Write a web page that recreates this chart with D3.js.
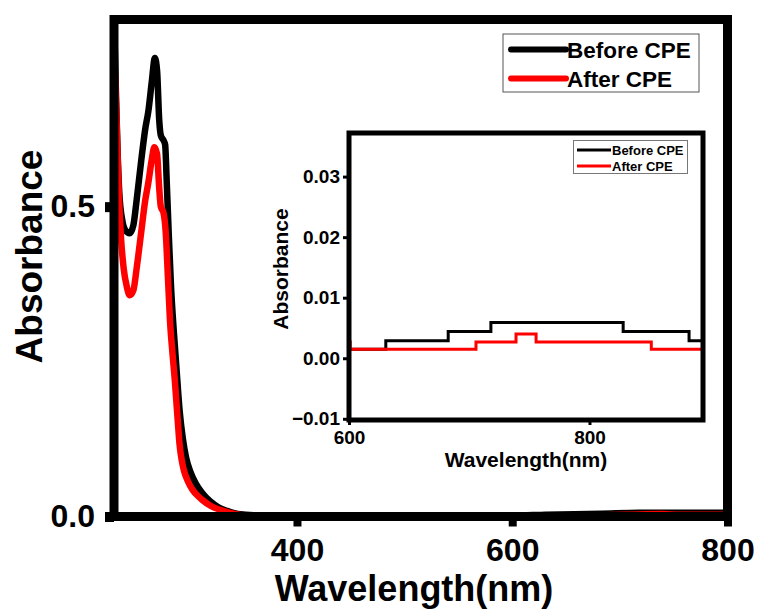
<!DOCTYPE html>
<html>
<head>
<meta charset="utf-8">
<script src="https://cdn.jsdelivr.net/npm/d3@7"></script>
<style>
  html, body { margin: 0; padding: 0; background: #fff; }
  svg { display: block; }
  text { font-family: "Liberation Sans", Arial, sans-serif; font-weight: bold; fill: #000; }
</style>
</head>
<body>
<svg id="chart" width="763" height="609"></svg>
<script>
// ---------------- DATA ----------------
const seriesNames = ["Before CPE", "After CPE"];
const seriesColors = ["#000000", "#ff0000"];

// Main spectrum: Before CPE
const beforeWavelength = [230, 231, 232, 233.5, 235, 237.5, 240.5, 244.5, 248, 251, 255, 259, 262, 265, 268, 270, 272, 273.5, 276, 277.5, 279, 281, 283, 285.5, 288, 291, 294, 297, 301, 306, 312, 319, 327, 335, 345, 360, 400, 450, 500, 550, 600, 631, 683, 718, 800];
const beforeAbsorbance = [0.80, 0.74, 0.67, 0.58, 0.52, 0.48, 0.462, 0.457, 0.47, 0.51, 0.57, 0.625, 0.655, 0.70, 0.74, 0.72, 0.64, 0.615, 0.607, 0.60, 0.54, 0.45, 0.37, 0.30, 0.24, 0.17, 0.125, 0.095, 0.072, 0.053, 0.038, 0.025, 0.015, 0.009, 0.004, 0.002, 0.0016, 0.0015, 0.0016, 0.0015, 0.0015, 0.0029, 0.0044, 0.0059, 0.0059];

// Main spectrum: After CPE
const afterWavelength = [231, 232, 233, 234.5, 236.5, 239, 242, 244.5, 248, 251, 255, 259, 262, 265, 267.5, 270, 272, 273.5, 276, 278, 280, 282, 284.5, 286.5, 289, 291, 293, 295, 298.6, 303, 308, 312.5, 320, 330, 340, 350, 370, 390, 420, 450, 480, 510, 540, 570, 600, 640, 706, 739, 756, 800];
const afterAbsorbance = [0.7125, 0.66, 0.60, 0.52, 0.45, 0.40, 0.37, 0.357, 0.365, 0.40, 0.455, 0.51, 0.54, 0.575, 0.596, 0.585, 0.53, 0.50, 0.49, 0.46, 0.39, 0.317, 0.26, 0.22, 0.16, 0.115, 0.09, 0.074, 0.057, 0.043, 0.033, 0.026, 0.017, 0.010, 0.005, 0.002, 0.0015, 0.002, 0.001, 0.0018, 0.0012, 0.0017, 0.0013, 0.0016, 0.0015, 0.0013, 0.0027, 0.004, 0.0027, 0.0027];

// Inset (600-895 nm, stepped readings)
const insetBeforeWavelength = [600, 630.6, 682.5, 718, 828, 882.8, 895];
const insetBeforeAbsorbance = [0.0015, 0.0029, 0.0044, 0.0059, 0.0044, 0.0029, 0.0029];
const insetAfterWavelength = [600, 601, 705.6, 738.9, 755.6, 851.4, 895];
const insetAfterAbsorbance = [0.0027, 0.0015, 0.0027, 0.0040, 0.0027, 0.0015, 0.0015];

// Tick labels
const mainXTicks = [400, 600, 800];
const mainYTicks = [0.0, 0.5];
const insetXTicks = [600, 800];
const insetYTicks = [-0.01, 0.00, 0.01, 0.02, 0.03];

const xTitle = "Wavelength(nm)";
const yTitle = "Absorbance";

// ---------------- DRAW ----------------
const svg = d3.select("#chart");

// Main plot box
const M = { left: 114, right: 727.5, top: 19.5, bottom: 516.5 };
const x = d3.scaleLinear().domain([230, 800]).range([M.left, M.right]);
const y = d3.scaleLinear().domain([0, 0.802]).range([M.bottom, M.top]);

svg.append("clipPath").attr("id", "mainClip")
  .append("rect").attr("x", M.left).attr("y", M.top)
  .attr("width", M.right - M.left).attr("height", M.bottom - M.top);

const mainSeries = [
  { name: seriesNames[0], color: seriesColors[0], wl: beforeWavelength, ab: beforeAbsorbance },
  { name: seriesNames[1], color: seriesColors[1], wl: afterWavelength, ab: afterAbsorbance }
];

const mainLine = d3.line()
  .x(d => x(d[0])).y(d => y(d[1]))
  .curve(d3.curveMonotoneX);

const gLines = svg.append("g").attr("clip-path", "url(#mainClip)");
mainSeries.forEach(s => {
  gLines.append("path")
    .datum(d3.zip(s.wl, s.ab))
    .attr("fill", "none")
    .attr("stroke", s.color)
    .attr("stroke-width", 6.5)
    .attr("stroke-linejoin", "round")
    .attr("stroke-linecap", "round")
    .attr("d", mainLine);
});

// axes ticks
const xAxis = d3.axisBottom(x).tickValues(mainXTicks).tickSize(10).tickSizeOuter(0).tickPadding(14)
  .tickFormat(d3.format("d"));
const gx = svg.append("g").attr("transform", `translate(0,${M.bottom})`).call(xAxis);
gx.select(".domain").remove();
gx.selectAll(".tick line").attr("stroke", "#000").attr("stroke-width", 8);
gx.selectAll(".tick text").attr("font-size", 32).attr("dy", "0.71em").attr("y", 22);

const yAxis = d3.axisLeft(y).tickValues(mainYTicks).tickSize(9).tickSizeOuter(0).tickPadding(8)
  .tickFormat(d3.format(".1f"));
const gy = svg.append("g").attr("transform", `translate(${M.left},0)`).call(yAxis);
gy.select(".domain").remove();
gy.selectAll(".tick line").attr("stroke", "#000").attr("stroke-width", 10);
gy.selectAll(".tick text").attr("font-size", 32).attr("x", -19);

// frame
svg.append("rect")
  .attr("x", M.left).attr("y", M.top)
  .attr("width", M.right - M.left).attr("height", M.bottom - M.top)
  .attr("fill", "none").attr("stroke", "#000").attr("stroke-width", 9);

// axis titles
svg.append("text")
  .attr("x", 414).attr("y", 601)
  .attr("text-anchor", "middle").attr("font-size", 36)
  .text(xTitle);
svg.append("text")
  .attr("transform", `translate(42,${(150 + 363) / 2}) rotate(-90)`)
  .attr("text-anchor", "middle").attr("font-size", 37)
  .text(yTitle);

// main legend
const lg = svg.append("g");
lg.append("rect").attr("x", 503).attr("y", 34).attr("width", 196).attr("height", 58)
  .attr("fill", "#fff").attr("stroke", "#555").attr("stroke-width", 1);
mainSeries.forEach((s, i) => {
  const yy = 49.5 + i * 29;
  lg.append("line").attr("x1", 511).attr("x2", 566).attr("y1", yy).attr("y2", yy)
    .attr("stroke", s.color).attr("stroke-width", 6).attr("stroke-linecap", "round");
  lg.append("text").attr("x", 567).attr("y", yy).attr("dy", "0.36em")
    .attr("font-size", 22.5).text(s.name);
});

// ---------------- INSET ----------------
const I = { left: 349, right: 703, top: 133, bottom: 420 };
const xi = d3.scaleLinear().domain([600, 894.4]).range([I.left, I.right]);
const yi = d3.scaleLinear().domain([-0.0102, 0.0372]).range([I.bottom, I.top]);

svg.append("rect").attr("x", I.left).attr("y", I.top)
  .attr("width", I.right - I.left).attr("height", I.bottom - I.top)
  .attr("fill", "#fff");

svg.append("clipPath").attr("id", "insetClip")
  .append("rect").attr("x", I.left).attr("y", I.top)
  .attr("width", I.right - I.left).attr("height", I.bottom - I.top);

const insetSeries = [
  { name: seriesNames[0], color: seriesColors[0], wl: insetBeforeWavelength, ab: insetBeforeAbsorbance },
  { name: seriesNames[1], color: seriesColors[1], wl: insetAfterWavelength, ab: insetAfterAbsorbance }
];
const insetLine = d3.line().x(d => xi(d[0])).y(d => yi(d[1])).curve(d3.curveStepAfter);
const gi = svg.append("g").attr("clip-path", "url(#insetClip)");
insetSeries.forEach(s => {
  gi.append("path").datum(d3.zip(s.wl, s.ab))
    .attr("fill", "none").attr("stroke", s.color).attr("stroke-width", 3)
    .attr("d", insetLine);
});

const xiAxis = d3.axisBottom(xi).tickValues(insetXTicks).tickSize(5).tickSizeOuter(0).tickFormat(d3.format("d"));
const gxi = svg.append("g").attr("transform", `translate(0,${I.bottom})`).call(xiAxis);
gxi.select(".domain").remove();
gxi.selectAll(".tick line").attr("stroke", "#000").attr("stroke-width", 3);
gxi.selectAll(".tick text").attr("font-size", 19).attr("y", 11);

const yiAxis = d3.axisLeft(yi).tickValues(insetYTicks).tickSize(6).tickSizeOuter(0).tickFormat(d3.format(".2f"));
const gyi = svg.append("g").attr("transform", `translate(${I.left},0)`).call(yiAxis);
gyi.select(".domain").remove();
gyi.selectAll(".tick line").attr("stroke", "#000").attr("stroke-width", 3);
gyi.selectAll(".tick text").attr("font-size", 19).attr("x", -9);

svg.append("rect").attr("x", I.left).attr("y", I.top)
  .attr("width", I.right - I.left).attr("height", I.bottom - I.top)
  .attr("fill", "none").attr("stroke", "#000").attr("stroke-width", 5);

svg.append("text")
  .attr("x", (I.left + I.right) / 2).attr("y", 467)
  .attr("text-anchor", "middle").attr("font-size", 21)
  .text(xTitle);
svg.append("text")
  .attr("transform", `translate(288,${269}) rotate(-90)`)
  .attr("text-anchor", "middle").attr("font-size", 21)
  .text(yTitle);

// inset legend
const ilg = svg.append("g");
ilg.append("rect").attr("x", 573.5).attr("y", 140.5).attr("width", 114).attr("height", 33)
  .attr("fill", "#fff").attr("stroke", "#777").attr("stroke-width", 1);
insetSeries.forEach((s, i) => {
  const yy = 150 + i * 16;
  ilg.append("line").attr("x1", 577).attr("x2", 611).attr("y1", yy).attr("y2", yy)
    .attr("stroke", s.color).attr("stroke-width", 3);
  ilg.append("text").attr("x", 612).attr("y", yy).attr("dy", "0.36em")
    .attr("font-size", 13).text(s.name);
});
</script>
</body>
</html>
